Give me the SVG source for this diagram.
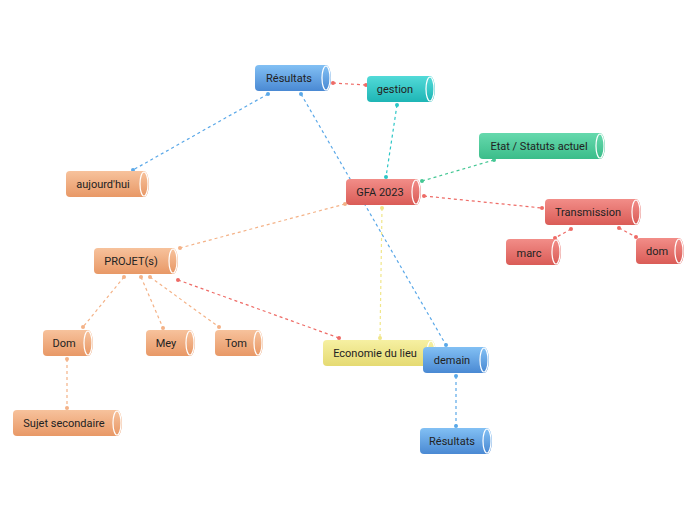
<svg xmlns="http://www.w3.org/2000/svg" width="696" height="520" viewBox="0 0 696 520">
<defs>
<linearGradient id="gBlue" x1="0" y1="0" x2="0" y2="1"><stop offset="0" stop-color="#82c0f4"/><stop offset="1" stop-color="#4a89d3"/></linearGradient>
<linearGradient id="gTeal" x1="0" y1="0" x2="0" y2="1"><stop offset="0" stop-color="#52dad8"/><stop offset="1" stop-color="#1eb5b5"/></linearGradient>
<linearGradient id="gGreen" x1="0" y1="0" x2="0" y2="1"><stop offset="0" stop-color="#66d9ad"/><stop offset="1" stop-color="#3bbd8a"/></linearGradient>
<linearGradient id="gRed" x1="0" y1="0" x2="0" y2="1"><stop offset="0" stop-color="#f28d88"/><stop offset="1" stop-color="#da5c57"/></linearGradient>
<linearGradient id="gOrange" x1="0" y1="0" x2="0" y2="1"><stop offset="0" stop-color="#f7c29c"/><stop offset="1" stop-color="#e89866"/></linearGradient>
<linearGradient id="gYellow" x1="0" y1="0" x2="0" y2="1"><stop offset="0" stop-color="#f6f0a2"/><stop offset="1" stop-color="#e5da72"/></linearGradient>
</defs>
<style>
.body{stroke:none}
.cap{stroke:#ffffff;stroke-width:1.2}
.blue{fill:url(#gBlue)} .teal{fill:url(#gTeal)} .green{fill:url(#gGreen)} .red{fill:url(#gRed)} .orange{fill:url(#gOrange)} .yellow{fill:url(#gYellow)}
.lbl{font-family:Roboto,"Liberation Sans",sans-serif;font-size:11px;fill:#222;text-anchor:middle}
.c{fill:none;stroke-width:1.2;stroke-dasharray:3,3}
.cb{stroke:#5aa8e8} .cr{stroke:#ee6b66} .ct{stroke:#2cc6c6} .cg{stroke:#45c794} .co{stroke:#f4b287} .cy{stroke:#f0e68a}
.db{fill:#5aa8e8} .dr{fill:#ee6b66} .dt{fill:#2cc6c6} .dg{fill:#45c794} .do{fill:#f4b287} .dy{fill:#f0e68a}
</style>
<g id="connectors">
<line class="c cb" x1="301" y1="94" x2="446" y2="345"/>
<circle class="db" cx="301" cy="94" r="2"/><circle class="db" cx="446" cy="345" r="2"/>
<line class="c cr" x1="333" y1="83" x2="366" y2="85"/>
<circle class="dr" cx="333" cy="83" r="2"/><circle class="dr" cx="366" cy="85" r="2"/>
<line class="c ct" x1="397" y1="105" x2="386" y2="177"/>
<circle class="dt" cx="397" cy="105" r="2"/><circle class="dt" cx="386" cy="177" r="2"/>
<line class="c cb" x1="268" y1="94" x2="133" y2="170"/>
<circle class="db" cx="268" cy="94" r="2"/><circle class="db" cx="133" cy="170" r="2"/>
<line class="c cg" x1="422" y1="181" x2="494" y2="160"/>
<circle class="dg" cx="422" cy="181" r="2"/><circle class="dg" cx="494" cy="160" r="2"/>
<line class="c cr" x1="424" y1="196" x2="542" y2="208"/>
<circle class="dr" cx="424" cy="196" r="2"/><circle class="dr" cx="542" cy="208" r="2"/>
<line class="c co" x1="345" y1="204" x2="180" y2="248"/>
<circle class="do" cx="345" cy="204" r="2"/><circle class="do" cx="180" cy="248" r="2"/>
<line class="c cy" x1="382" y1="208" x2="380" y2="338"/>
<circle class="dy" cx="382" cy="208" r="2"/><circle class="dy" cx="380" cy="338" r="2"/>
<line class="c cr" x1="571" y1="229" x2="555" y2="238"/>
<circle class="dr" cx="571" cy="229" r="2"/><circle class="dr" cx="555" cy="238" r="2"/>
<line class="c cr" x1="619" y1="228" x2="636" y2="237"/>
<circle class="dr" cx="619" cy="228" r="2"/><circle class="dr" cx="636" cy="237" r="2"/>
<line class="c co" x1="124" y1="277" x2="83" y2="327"/>
<circle class="do" cx="124" cy="277" r="2"/><circle class="do" cx="83" cy="327" r="2"/>
<line class="c co" x1="141" y1="277" x2="163" y2="328"/>
<circle class="do" cx="141" cy="277" r="2"/><circle class="do" cx="163" cy="328" r="2"/>
<line class="c co" x1="150" y1="277" x2="219" y2="327"/>
<circle class="do" cx="150" cy="277" r="2"/><circle class="do" cx="219" cy="327" r="2"/>
<line class="c cr" x1="178" y1="280" x2="339" y2="338"/>
<circle class="dr" cx="178" cy="280" r="2"/><circle class="dr" cx="339" cy="338" r="2"/>
<line class="c co" x1="67" y1="359" x2="67" y2="408"/>
<circle class="do" cx="67" cy="359" r="2"/><circle class="do" cx="67" cy="408" r="2"/>
<line class="c cb" x1="456" y1="376" x2="456" y2="426"/>
<circle class="db" cx="456" cy="376" r="2"/><circle class="db" cx="456" cy="426" r="2"/>
</g>
<g id="resultats-top">
<path class="body blue" d="M259,65 H326 A5,13 0 0 1 326,91 H259 A4,4 0 0 1 255,87 V69 A4,4 0 0 1 259,65 Z"/>
<ellipse class="cap blue" cx="326" cy="78" rx="4" ry="12"/>
<text class="lbl" x="289" y="82">Résultats</text>
</g>
<g id="gestion">
<path class="body teal" d="M371,76 H430 A5,13 0 0 1 430,102 H371 A4,4 0 0 1 367,98 V80 A4,4 0 0 1 371,76 Z"/>
<ellipse class="cap teal" cx="430" cy="89" rx="4" ry="12"/>
<text class="lbl" x="395" y="93">gestion</text>
</g>
<g id="gfa">
<path class="body red" d="M350,179 H416 A5,13 0 0 1 416,205 H350 A4,4 0 0 1 346,201 V183 A4,4 0 0 1 350,179 Z"/>
<ellipse class="cap red" cx="416" cy="192" rx="4" ry="12"/>
<text class="lbl" x="380" y="196">GFA 2023</text>
</g>
<g id="etat">
<path class="body green" d="M483,133 H600 A5,13 0 0 1 600,159 H483 A4,4 0 0 1 479,155 V137 A4,4 0 0 1 483,133 Z"/>
<ellipse class="cap green" cx="600" cy="146" rx="4" ry="12"/>
<text class="lbl" x="539" y="150">Etat / Statuts actuel</text>
</g>
<g id="transmission">
<path class="body red" d="M549,199 H636 A5,13 0 0 1 636,225 H549 A4,4 0 0 1 545,221 V203 A4,4 0 0 1 549,199 Z"/>
<ellipse class="cap red" cx="636" cy="212" rx="4" ry="12"/>
<text class="lbl" x="588" y="216">Transmission</text>
</g>
<g id="marc">
<path class="body red" d="M510,239 H556 A5,13 0 0 1 556,265 H510 A4,4 0 0 1 506,261 V243 A4,4 0 0 1 510,239 Z"/>
<ellipse class="cap red" cx="556" cy="252" rx="4" ry="12"/>
<text class="lbl" x="529" y="257">marc</text>
</g>
<g id="dom-right">
<path class="body red" d="M640,238 H679 A5,13 0 0 1 679,264 H640 A4,4 0 0 1 636,260 V242 A4,4 0 0 1 640,238 Z"/>
<ellipse class="cap red" cx="679" cy="251" rx="4" ry="12"/>
<text class="lbl" x="657" y="255">dom</text>
</g>
<g id="aujourdhui">
<path class="body orange" d="M70,171 H144 A5,13 0 0 1 144,197 H70 A4,4 0 0 1 66,193 V175 A4,4 0 0 1 70,171 Z"/>
<ellipse class="cap orange" cx="144" cy="184" rx="4" ry="12"/>
<text class="lbl" x="103" y="188">aujourd'hui</text>
</g>
<g id="projets">
<path class="body orange" d="M98,248 H173 A5,13 0 0 1 173,274 H98 A4,4 0 0 1 94,270 V252 A4,4 0 0 1 98,248 Z"/>
<ellipse class="cap orange" cx="173" cy="261" rx="4" ry="12"/>
<text class="lbl" x="131" y="265">PROJET(s)</text>
</g>
<g id="dom-left">
<path class="body orange" d="M47,330 H88 A5,13 0 0 1 88,356 H47 A4,4 0 0 1 43,352 V334 A4,4 0 0 1 47,330 Z"/>
<ellipse class="cap orange" cx="88" cy="343" rx="4" ry="12"/>
<text class="lbl" x="64" y="347">Dom</text>
</g>
<g id="mey">
<path class="body orange" d="M150,330 H190 A5,13 0 0 1 190,356 H150 A4,4 0 0 1 146,352 V334 A4,4 0 0 1 150,330 Z"/>
<ellipse class="cap orange" cx="190" cy="343" rx="4" ry="12"/>
<text class="lbl" x="166" y="347">Mey</text>
</g>
<g id="tom">
<path class="body orange" d="M219,330 H258 A5,13 0 0 1 258,356 H219 A4,4 0 0 1 215,352 V334 A4,4 0 0 1 219,330 Z"/>
<ellipse class="cap orange" cx="258" cy="343" rx="4" ry="12"/>
<text class="lbl" x="236" y="347">Tom</text>
</g>
<g id="sujet">
<path class="body orange" d="M17,410 H117 A5,13 0 0 1 117,436 H17 A4,4 0 0 1 13,432 V414 A4,4 0 0 1 17,410 Z"/>
<ellipse class="cap orange" cx="117" cy="423" rx="4" ry="12"/>
<text class="lbl" x="64" y="427">Sujet secondaire</text>
</g>
<g id="economie">
<path class="body yellow" d="M327,340 H431 A5,13 0 0 1 431,366 H327 A4,4 0 0 1 323,362 V344 A4,4 0 0 1 327,340 Z"/>
<ellipse class="cap yellow" cx="431" cy="353" rx="4" ry="12"/>
<text class="lbl" x="375" y="357">Economie du lieu</text>
</g>
<g id="demain">
<path class="body blue" d="M427,347 H484 A5,13 0 0 1 484,373 H427 A4,4 0 0 1 423,369 V351 A4,4 0 0 1 427,347 Z"/>
<ellipse class="cap blue" cx="484" cy="360" rx="4" ry="12"/>
<text class="lbl" x="452" y="364">demain</text>
</g>
<g id="resultats-bottom">
<path class="body blue" d="M424,428 H487 A5,13 0 0 1 487,454 H424 A4,4 0 0 1 420,450 V432 A4,4 0 0 1 424,428 Z"/>
<ellipse class="cap blue" cx="487" cy="441" rx="4" ry="12"/>
<text class="lbl" x="452" y="445">Résultats</text>
</g>
</svg>
